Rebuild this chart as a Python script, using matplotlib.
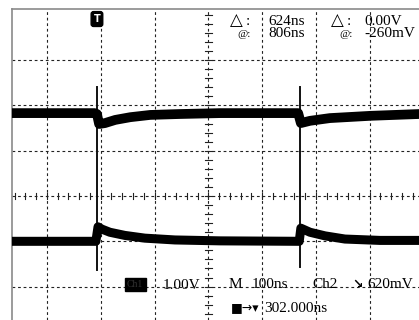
import matplotlib
matplotlib.use("Agg")
import matplotlib.pyplot as plt

# scope screen: 100 ns/div, 1 V/div, center of screen is (0 ns, 0 V)
grid_t = [-300, -200, -100, 0, 100, 200, 300]
grid_v = [3, 2, 1, 0, -1, -2]

# upper trace (ns, V)
upper_t = [-365, -211, -207, -203, -192, -173, -145, -108, -53, 22, 167, 172, 189, 226, 301, 392]
upper_v = [1.83, 1.83, 1.81, 1.59, 1.61, 1.68, 1.74, 1.79, 1.81, 1.83, 1.83, 1.61, 1.66, 1.72, 1.77, 1.81]

# lower trace (ns, V)
lower_t = [-365, -209, -205, -198, -183, -155, -118, -62, 22, 169, 172, 189, 217, 254, 319, 392]
lower_v = [-1.0, -1.0, -0.68, -0.73, -0.80, -0.87, -0.93, -0.97, -0.99, -1.0, -0.71, -0.80, -0.88, -0.95, -0.98, -0.98]

# fast transients at the switching edges
edge_t = [-207, 171]
spike_top = [2.41, 2.41]
spike_bottom = [-1.63, -1.57]

trig_t = -207

# readouts
cursor_labels = ["624ns", "806ns", "0.00V", "-260mV"]
ch1_scale = "1.00V"
time_scale = "100ns"
trig_src = "Ch2"
trig_level = "620mV"
trig_pos = "302.000ns"

W, H = 419, 320
fig = plt.figure(figsize=(W / 100, H / 100), dpi=100)
ax = fig.add_axes([0, 0, 1, 1])
ax.set_xlim(-387.2, 391.6)
ax.set_ylim(-2.737, 4.327)
ax.axis("off")

t_left, v_top = -365, 4.12
serif = ["Liberation Serif", "DejaVu Sans"]


def at(x, y):
    # pixel position -> axes fraction (for the labels only)
    return x / W, 1 - y / H


# graticule
dash = (0, (2.5, 2.5))
for t in grid_t:
    ax.plot([t, t], [ax.get_ylim()[0], v_top], color="#222222", lw=0.8, linestyle=dash, zorder=1)
for v in grid_v:
    ax.plot([t_left, ax.get_xlim()[1]], [v, v], color="#222222", lw=0.8, linestyle=dash, zorder=1)

# minor ticks on the center axes
for i in range(-40, 41):
    t = i * 20
    if t_left < t < ax.get_xlim()[1]:
        ax.plot([t, t], [-0.07, 0.07], color="#222222", lw=0.8, zorder=1)
for i in range(-20, 30):
    v = i * 0.2
    if ax.get_ylim()[0] < v < v_top:
        ax.plot([-6, 6], [v, v], color="#222222", lw=0.8, zorder=1)

# screen border (left / top)
ax.plot([t_left, t_left], [ax.get_ylim()[0], v_top], color="#8a8a8a", lw=1.2, zorder=2)
ax.plot([t_left, ax.get_xlim()[1]], [v_top, v_top], color="#8a8a8a", lw=1.2, zorder=2)

# traces
for t, top, bot in zip(edge_t, spike_top, spike_bottom):
    ax.plot([t, t], [bot, top], color="#111111", lw=1.4, zorder=3)
ax.plot(upper_t, upper_v, color="black", lw=7, solid_capstyle="butt", zorder=4)
ax.plot(lower_t, lower_v, color="black", lw=6.5, solid_capstyle="butt", zorder=4)

# trigger marker
ax.text(trig_t, 3.907, "T", color="white", fontsize=7, fontweight="bold",
        ha="center", va="center", zorder=5,
        bbox=dict(boxstyle="round,pad=0.25", fc="black", ec="black"))

# cursor readouts
kw = dict(transform=ax.transAxes, ha="left", va="baseline", family=serif, zorder=6)
ax.text(*at(230, 25), "\u25b3", fontsize=12, family=["DejaVu Sans"], transform=ax.transAxes, va="baseline")
ax.text(*at(246, 25), ":", fontsize=11, **kw)
ax.text(*at(237, 37), "@:", fontsize=8, **kw)
ax.text(*at(268, 25), cursor_labels[0], fontsize=11, **kw)
ax.text(*at(268, 37), cursor_labels[1], fontsize=11, **kw)
ax.text(*at(331, 25), "\u25b3", fontsize=12, family=["DejaVu Sans"], transform=ax.transAxes, va="baseline")
ax.text(*at(347, 25), ":", fontsize=11, **kw)
ax.text(*at(339, 37), "@:", fontsize=8, **kw)
ax.text(*at(364, 25), cursor_labels[2], fontsize=11, **kw)
ax.text(*at(364, 37), cursor_labels[3], fontsize=11, **kw)

# bottom status line
ax.text(*at(127, 287), "Ch1", fontsize=7, color="#333333", transform=ax.transAxes,
        ha="left", va="baseline", family=serif,
        bbox=dict(boxstyle="square,pad=0.25", fc="black", ec="black"))
ax.text(*at(163, 289), ch1_scale, fontsize=11, **kw)
ax.text(*at(229, 288), "M", fontsize=11, **kw)
ax.text(*at(252, 288), time_scale, fontsize=11, **kw)
ax.text(*at(312, 288), trig_src, fontsize=11, **kw)
ax.text(*at(352, 288), "\u2198", fontsize=9, fontweight="bold", family=["DejaVu Sans"],
        transform=ax.transAxes, ha="left", va="baseline")
ax.text(*at(367, 288), trig_level, fontsize=11, **kw)
ax.text(*at(231, 311), "\u25a0\u2192\u25be", fontsize=9, family=["DejaVu Sans"],
        transform=ax.transAxes, ha="left", va="baseline")
ax.text(*at(264, 312), trig_pos, fontsize=11, **kw)

fig.savefig("out.png", dpi=100)
